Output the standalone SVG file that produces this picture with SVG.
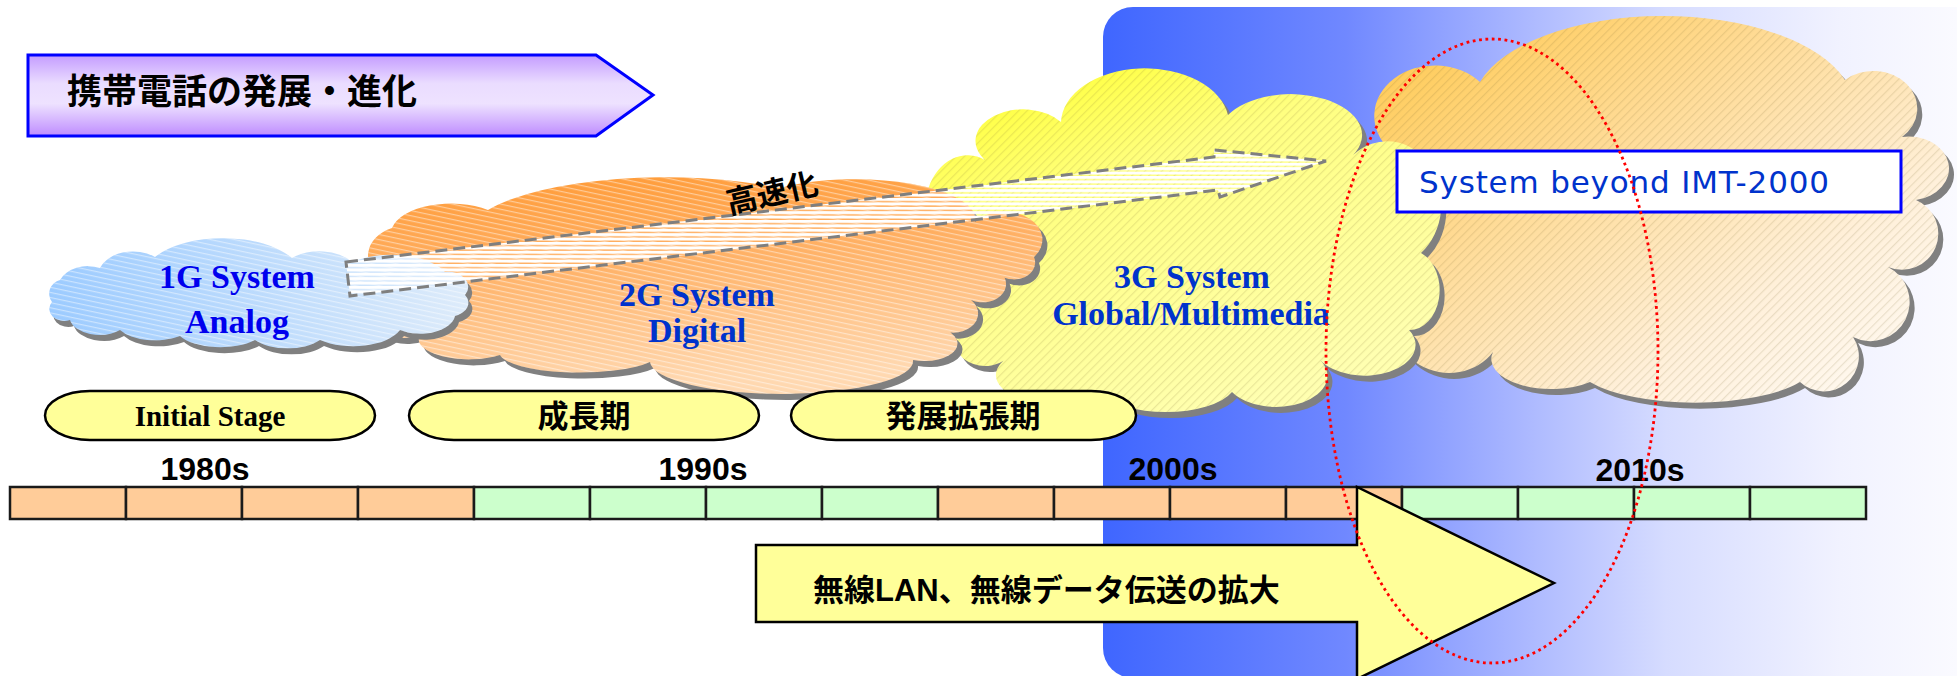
<svg xmlns="http://www.w3.org/2000/svg" width="1957" height="676" viewBox="0 0 1957 676">
  <style>
    .cjk{font-family:"Noto Sans CJK JP","Noto Sans CJK SC",sans-serif;font-weight:700}
    .serif{font-family:"Liberation Serif",serif;font-weight:700}
    .sans{font-family:"Liberation Sans",Arial,sans-serif;font-weight:700}
    .gen{font-size:34px;text-anchor:middle;fill:#0033CC}
    .decade{font-size:32px;text-anchor:middle;fill:#000}
    .shadow{fill:#808080}
    .pill{fill:#FFFF99;stroke:#000;stroke-width:2.5}
    .cell{stroke:#1a1a1a;stroke-width:2.5}
    .peach{fill:#FFCC99}
    .green{fill:#CCFFCC}
  </style>
  <defs>
    <!-- background panel -->
    <linearGradient id="gPanel" x1="0" y1="0" x2="1" y2="0">
      <stop offset="0" stop-color="#3F66FF"/>
      <stop offset="0.28" stop-color="#7088FF"/>
      <stop offset="0.5" stop-color="#AFBBFF"/>
      <stop offset="0.65" stop-color="#D6DCFF"/>
      <stop offset="0.85" stop-color="#F1F2FF"/>
      <stop offset="1" stop-color="#FBFBFF"/>
    </linearGradient>
    <linearGradient id="gTitle" x1="0" y1="0" x2="0" y2="1">
      <stop offset="0" stop-color="#C49CFF"/>
      <stop offset="0.35" stop-color="#EADCFF"/>
      <stop offset="0.6" stop-color="#EEE2FF"/>
      <stop offset="1" stop-color="#BE8CFF"/>
    </linearGradient>
    <linearGradient id="g1G" x1="0" y1="0" x2="1" y2="0">
      <stop offset="0" stop-color="#9CCBFF"/>
      <stop offset="1" stop-color="#DDEBFA"/>
    </linearGradient>
    <linearGradient id="g2G" x1="0" y1="0" x2="0.2" y2="1">
      <stop offset="0" stop-color="#FF9933"/>
      <stop offset="0.4" stop-color="#FFAE60"/>
      <stop offset="1" stop-color="#FFD8B0"/>
    </linearGradient>
    <linearGradient id="g3G" x1="0" y1="0" x2="0.6" y2="1">
      <stop offset="0" stop-color="#FFFF22"/>
      <stop offset="0.4" stop-color="#FFFF80"/>
      <stop offset="1" stop-color="#FFFFB0"/>
    </linearGradient>
    <linearGradient id="gNext" x1="0" y1="0" x2="1" y2="1">
      <stop offset="0" stop-color="#FFC84A"/>
      <stop offset="0.35" stop-color="#FFDA92"/>
      <stop offset="0.7" stop-color="#FFF0DA"/>
      <stop offset="1" stop-color="#FFFCF8"/>
    </linearGradient>

    <!-- fine hatching laid over the clouds -->
    <pattern id="hShallow" width="5" height="5" patternUnits="userSpaceOnUse" patternTransform="rotate(12)">
      <rect width="5" height="1.2" fill="#fff" opacity="0.45"/>
    </pattern>
    <pattern id="hDiag" width="6" height="6" patternUnits="userSpaceOnUse" patternTransform="rotate(-45)">
      <rect width="6" height="1.2" fill="#7a6a30" opacity="0.16"/>
    </pattern>
    <!-- horizontal white stripes of the speed-up arrow -->
    <pattern id="stripes" width="10" height="4.4" patternUnits="userSpaceOnUse">
      <rect width="10" height="3" fill="#fff"/>
    </pattern>

    <!-- cloud outlines -->
    <path id="c1G" d="M52 302 A14 14 0 0 1 60 280 A30 22 0 0 1 100 268 A35 25 0 0 1 155 257 A80 40 0 0 1 292 258 A40 25 0 0 1 352 262 A60 30 0 0 1 445 272 A20 15 0 0 1 465 295 A20 14 0 0 1 455 316 A35 20 0 0 1 400 330 A50 25 0 0 1 320 340 A40 20 0 0 1 255 340 A45 20 0 0 1 180 336 A40 20 0 0 1 120 330 A30 18 0 0 1 70 320 A15 12 0 0 1 52 302 Z"/>
    <path id="c2G" d="M385 280 A40 30 0 0 1 392 228 A60 30 0 0 1 488 210 A200 60 0 0 1 780 188 A120 40 0 0 1 975 222 A25 20 0 0 1 994 268 A18 14 0 0 1 971 300 A18 14 0 0 1 936 327 A30 16 0 0 1 913 360 A100 25 0 0 1 650 362 A80 20 0 0 1 500 355 A50 20 0 0 1 420 335 A40 30 0 0 1 385 280 Z M975 222 A30 22 0 0 1 1034 257 A20 16 0 0 1 994 268 Z"/>
    <path id="c3G" d="M950 260 A35 45 0 0 1 985 160 A45 30 0 0 1 1061 122 A84 55 0 0 1 1228 115 A70 40 0 0 1 1353 155 A45 52 0 0 1 1421 253 A30 40 0 0 1 1409 330 A50 30 0 0 1 1320 360 A50 30 0 0 1 1232 392 A70 30 0 0 1 1100 392 A50 25 0 0 1 1007 358 A30 25 0 0 1 955 340 A40 40 0 0 1 950 260 Z"/>
    <path id="cNext" d="M1405 300 A50 90 0 0 1 1390 150 A60 50 0 0 1 1480 82 A190 90 0 0 1 1845 80 A35 30 0 0 1 1902 137 A35 28 0 0 1 1916 200 A30 30 0 0 1 1888 267 A30 30 0 0 1 1853 337 A35 35 0 0 1 1800 382 A120 40 0 0 1 1590 382 A60 30 0 0 1 1493 352 A45 40 0 0 1 1405 300 Z"/>
  </defs>

  <!-- background panel for the 2000s onward -->
  <path id="panel" d="M1133 7 H1970 V678 H1133 A30 30 0 0 1 1103 648 V37 A30 30 0 0 1 1133 7 Z" fill="url(#gPanel)"/>

  <!-- clouds, back to front -->
  <g id="cloud-next">
    <use href="#cNext" class="shadow" transform="translate(5,6)"/>
    <use href="#cNext" fill="url(#gNext)"/>
    <use href="#cNext" fill="url(#hDiag)"/>
  </g>
  <g id="cloud-3g">
    <use href="#c3G" class="shadow" transform="translate(5,6)"/>
    <use href="#c3G" fill="url(#g3G)"/>
    <use href="#c3G" fill="url(#hDiag)"/>
    <text class="serif gen" x="1192" y="288">3G System</text>
    <text class="serif gen" x="1191" y="325">Global/Multimedia</text>
  </g>
  <g id="cloud-2g">
    <use href="#c2G" class="shadow" transform="translate(5,6)"/>
    <use href="#c2G" fill="url(#g2G)"/>
    <use href="#c2G" fill="url(#hShallow)"/>
    <text class="serif gen" x="697" y="306">2G System</text>
    <text class="serif gen" x="697" y="342">Digital</text>
  </g>
  <g id="cloud-1g">
    <use href="#c1G" class="shadow" transform="translate(4,6)"/>
    <use href="#c1G" fill="url(#g1G)"/>
    <use href="#c1G" fill="url(#hShallow)"/>
    <text class="serif gen" x="237" y="288" style="fill:#0000EE">1G System</text>
    <text class="serif gen" x="237" y="333" style="fill:#0000EE">Analog</text>
  </g>

  <!-- speed-up arrow -->
  <g id="speedup">
    <polygon points="346,262 1214,157 1214,150 1326,161 1220,197 1218,190 350,296" fill="url(#stripes)" stroke="#7F7F7F" stroke-width="3" stroke-dasharray="12 6"/>
    <text class="cjk" x="772" y="204" font-size="31" text-anchor="middle" transform="rotate(-13 772 193)">高速化</text>
  </g>

  <!-- next generation label -->
  <g id="beyond">
    <rect x="1397" y="151" width="504" height="61" fill="#fff" stroke="#0000FF" stroke-width="3"/>
    <text x="1419" y="193" font-family="'DejaVu Sans',Verdana,sans-serif" font-size="31" fill="#0033CC" textLength="410" lengthAdjust="spacing">System beyond IMT-2000</text>
  </g>

  <!-- title banner -->
  <g id="title">
    <polygon points="28,55 596,55 653,95 596,136 28,136" fill="url(#gTitle)" stroke="#0000FF" stroke-width="3"/>
    <text class="cjk" x="67" y="104" font-size="35">携帯電話の発展・進化</text>
  </g>

  <!-- stage pills -->
  <g id="stage-initial">
    <rect class="pill" x="45" y="391" width="330" height="49" rx="45" ry="24.5"/>
    <text class="serif" x="210" y="426" font-size="29" text-anchor="middle">Initial Stage</text>
  </g>
  <g id="stage-growth">
    <rect class="pill" x="409" y="391" width="350" height="49" rx="45" ry="24.5"/>
    <text class="cjk" x="584" y="427" font-size="31" text-anchor="middle">成長期</text>
  </g>
  <g id="stage-expansion">
    <rect class="pill" x="791" y="391" width="345" height="49" rx="45" ry="24.5"/>
    <text class="cjk" x="963" y="427" font-size="31" text-anchor="middle">発展拡張期</text>
  </g>

  <!-- decade labels -->
  <g id="decades" class="sans">
    <text class="decade" x="205" y="480">1980s</text>
    <text class="decade" x="703" y="480">1990s</text>
    <text class="decade" x="1173" y="480">2000s</text>
    <text class="decade" x="1640" y="481">2010s</text>
  </g>

  <!-- timeline bar -->
  <g id="timeline">
    <rect class="cell peach" x="10" y="487" width="116" height="32"/>
    <rect class="cell peach" x="126" y="487" width="116" height="32"/>
    <rect class="cell peach" x="242" y="487" width="116" height="32"/>
    <rect class="cell peach" x="358" y="487" width="116" height="32"/>
    <rect class="cell green" x="474" y="487" width="116" height="32"/>
    <rect class="cell green" x="590" y="487" width="116" height="32"/>
    <rect class="cell green" x="706" y="487" width="116" height="32"/>
    <rect class="cell green" x="822" y="487" width="116" height="32"/>
    <rect class="cell peach" x="938" y="487" width="116" height="32"/>
    <rect class="cell peach" x="1054" y="487" width="116" height="32"/>
    <rect class="cell peach" x="1170" y="487" width="116" height="32"/>
    <rect class="cell peach" x="1286" y="487" width="116" height="32"/>
    <rect class="cell green" x="1402" y="487" width="116" height="32"/>
    <rect class="cell green" x="1518" y="487" width="116" height="32"/>
    <rect class="cell green" x="1634" y="487" width="116" height="32"/>
    <rect class="cell green" x="1750" y="487" width="116" height="32"/>
  </g>

  <!-- wireless LAN arrow -->
  <g id="wlan">
    <polygon points="756,545 1357,545 1357,487 1554,583 1357,679 1357,622 756,622" fill="#FFFF99" stroke="#000" stroke-width="2.5"/>
    <text x="813" y="601" font-size="31" font-family="'Liberation Sans','Noto Sans CJK JP',sans-serif" font-weight="700">無線LAN、無線データ伝送の拡大</text>
  </g>

  <!-- transition highlight -->
  <ellipse id="highlight" cx="1492" cy="351" rx="166" ry="312" fill="none" stroke="#FF0000" stroke-width="2.8" stroke-dasharray="2.8 3.6"/>
</svg>
